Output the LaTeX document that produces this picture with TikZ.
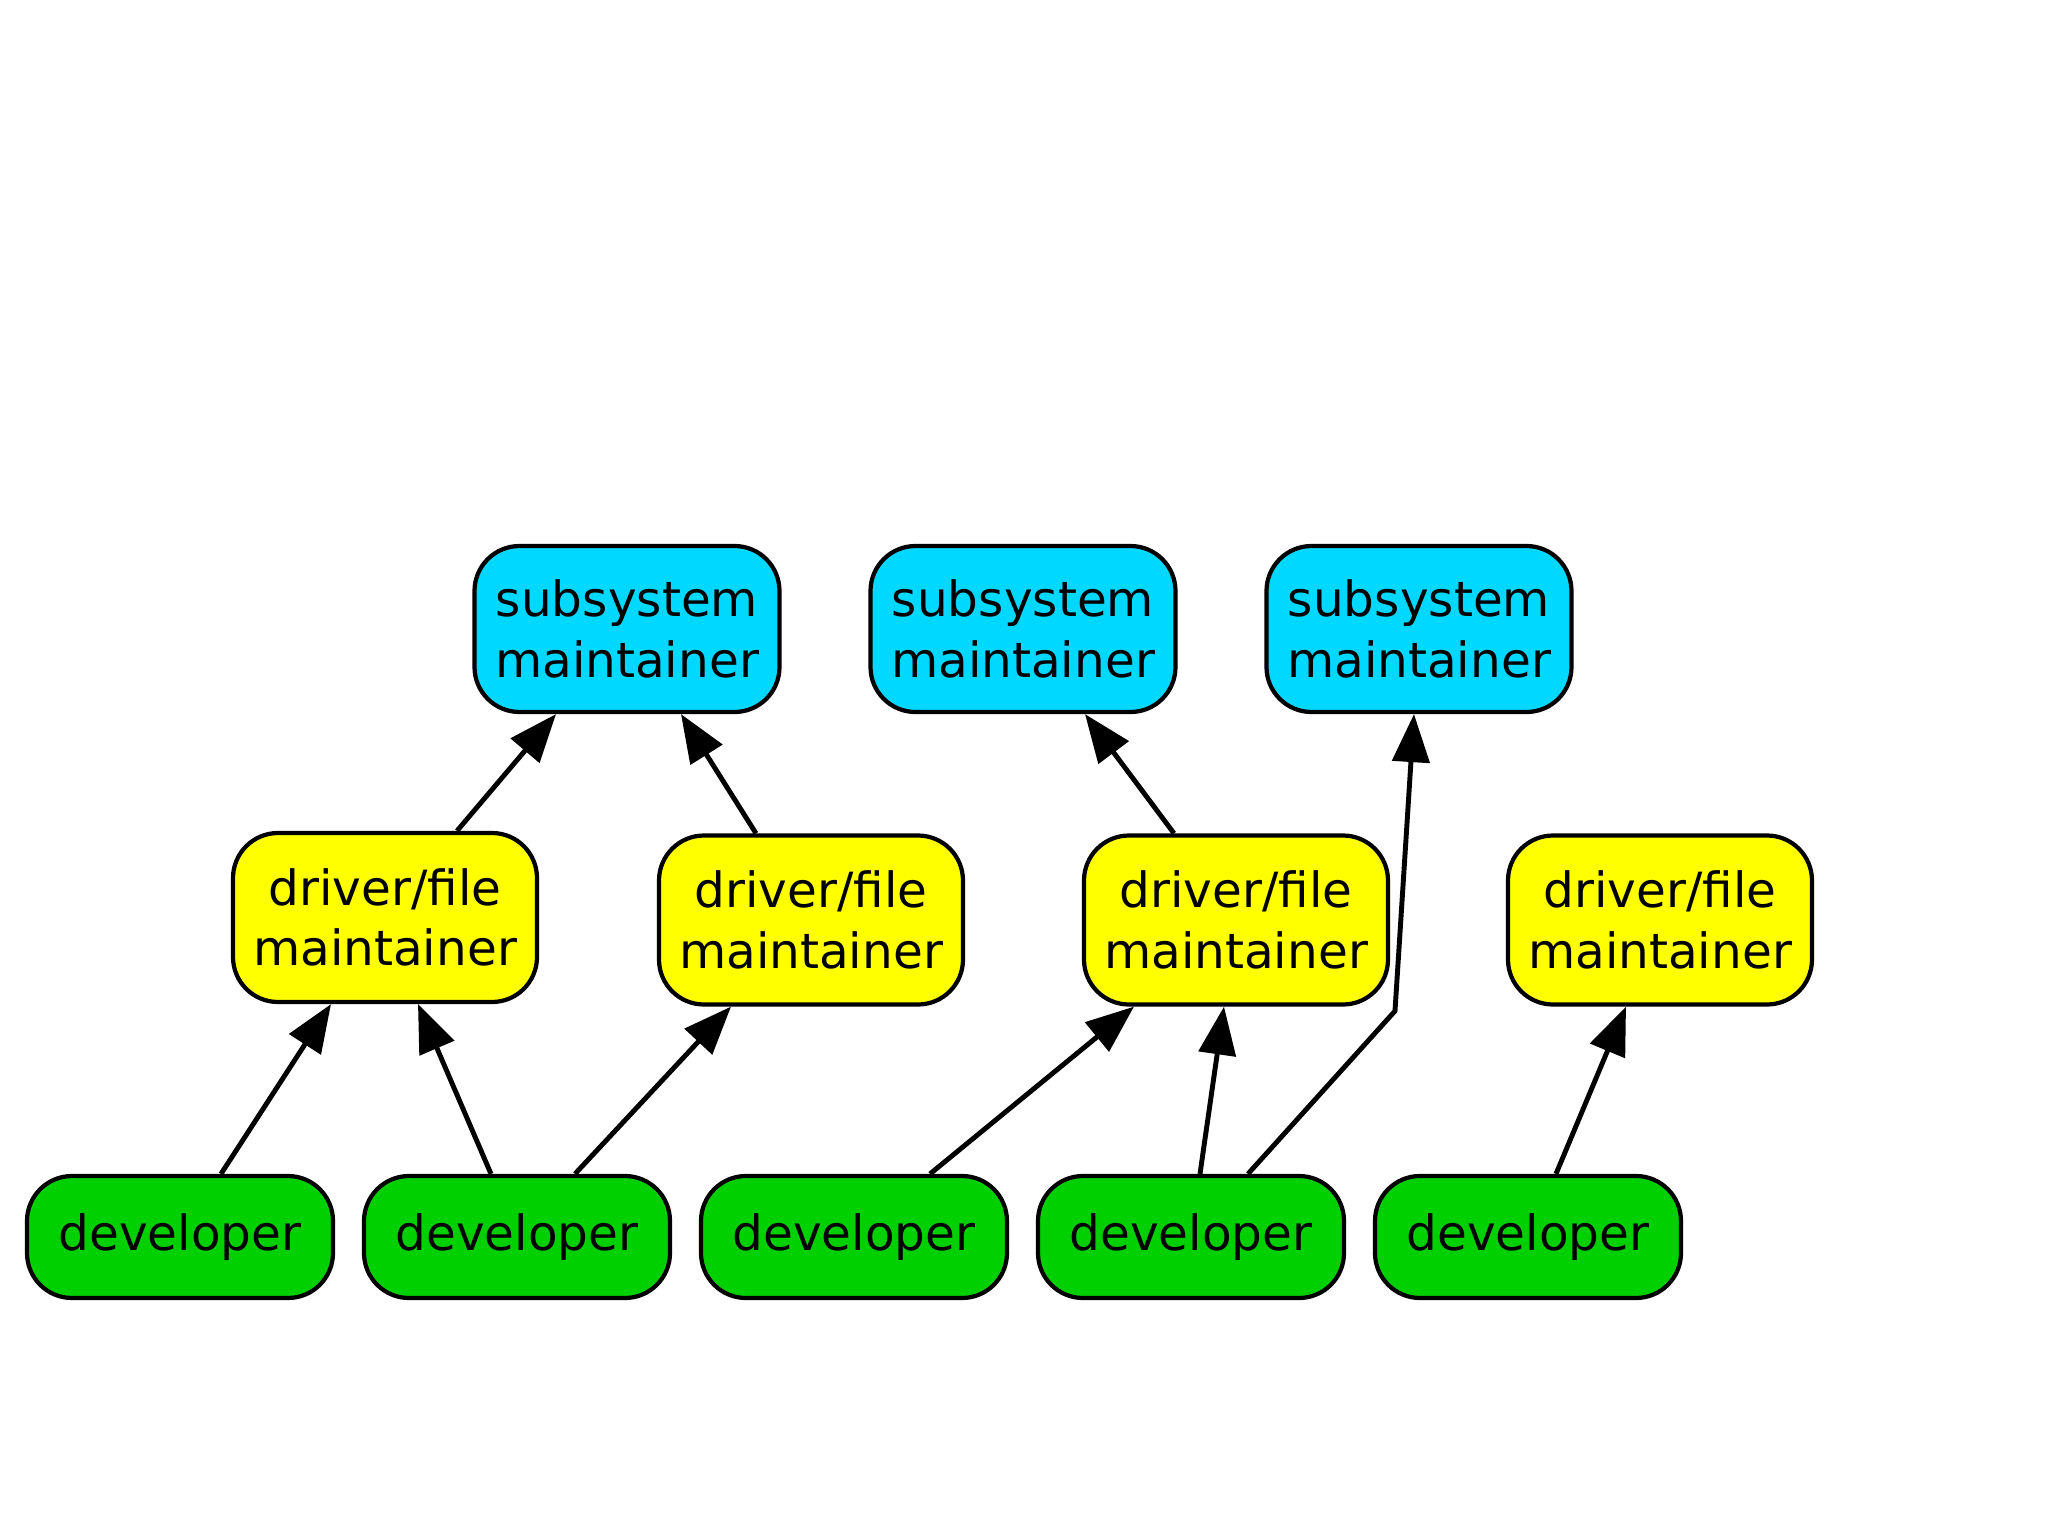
\documentclass[tikz,border=0pt]{standalone}
\usepackage{fontspec}
\setmainfont{DejaVu Sans}
\usetikzlibrary{arrows.meta,calc}
\definecolor{subcol}{RGB}{0,216,255}
\definecolor{drvcol}{RGB}{255,255,0}
\definecolor{devcol}{RGB}{0,208,0}
\tikzset{
  box/.style={draw=black, line width=1.2pt, rounded corners=0.45cm, align=center, inner sep=0pt,
    font=\fontsize{13.8}{17.2}\selectfont, text=black},
  subbox/.style={box, fill=subcol, minimum width=3.05cm, minimum height=1.66cm},
  drvbox/.style={box, fill=drvcol, minimum width=3.04cm, minimum height=1.69cm},
  devbox/.style={box, fill=devcol, minimum width=3.06cm, minimum height=1.22cm},
  link/.style={draw=black, line width=1.4pt, -{Triangle[length=4.8mm,width=3.7mm]}}
}
\begin{document}
\begin{tikzpicture}
\fill[white] (0,0) rectangle (20.48,-15.35);
\useasboundingbox (0,0) rectangle (20.48,-15.35);

\node[subbox] (S1) at (6.27,-6.29) {subsystem\\maintainer};
\node[subbox] (S2) at (10.23,-6.29) {subsystem\\maintainer};
\node[subbox] (S3) at (14.19,-6.29) {subsystem\\maintainer};

\node[drvbox] (D1) at (3.85,-9.175) {driver/file\\maintainer};
\node[drvbox] (D2) at (8.11,-9.20) {driver/file\\maintainer};
\node[drvbox] (D3) at (12.36,-9.20) {driver/file\\maintainer};
\node[drvbox] (D4) at (16.60,-9.20) {driver/file\\maintainer};

\node[devbox] (V1) at (1.80,-12.37) {developer};
\node[devbox] (V2) at (5.17,-12.37) {developer};
\node[devbox] (V3) at (8.54,-12.37) {developer};
\node[devbox] (V4) at (11.91,-12.37) {developer};
\node[devbox] (V5) at (15.28,-12.37) {developer};

\coordinate (bend) at (13.95,-10.11);

\draw[link] ($(D1.north)+(0.72,0)$) -- ($(S1.south)+(-0.71,0)$);
\draw[link] ($(D2.north)+(-0.55,0)$) -- ($(S1.south)+(0.54,0)$);
\draw[link] ($(D3.north)+(-0.62,0)$) -- ($(S2.south)+(0.62,0)$);

\draw[link] ($(V1.north)+(0.41,0)$) -- ($(D1.south)+(-0.54,0)$);
\draw[link] ($(V2.north)+(-0.26,0)$) -- ($(D1.south)+(0.33,0)$);
\draw[link] ($(V2.north)+(0.58,0)$) -- ($(D2.south)+(-0.80,0)$);
\draw[link] ($(V3.north)+(0.76,0)$) -- ($(D3.south)+(-1.02,0)$);
\draw[link] ($(V4.north)+(0.09,0)$) -- ($(D3.south)+(-0.12,0)$);
\draw[link] ($(V4.north)+(0.57,0)$) -- (bend) -- ($(S3.south)+(-0.05,0)$);
\draw[link] ($(V5.north)+(0.28,0)$) -- ($(D4.south)+(-0.34,0)$);
\end{tikzpicture}
\end{document}
